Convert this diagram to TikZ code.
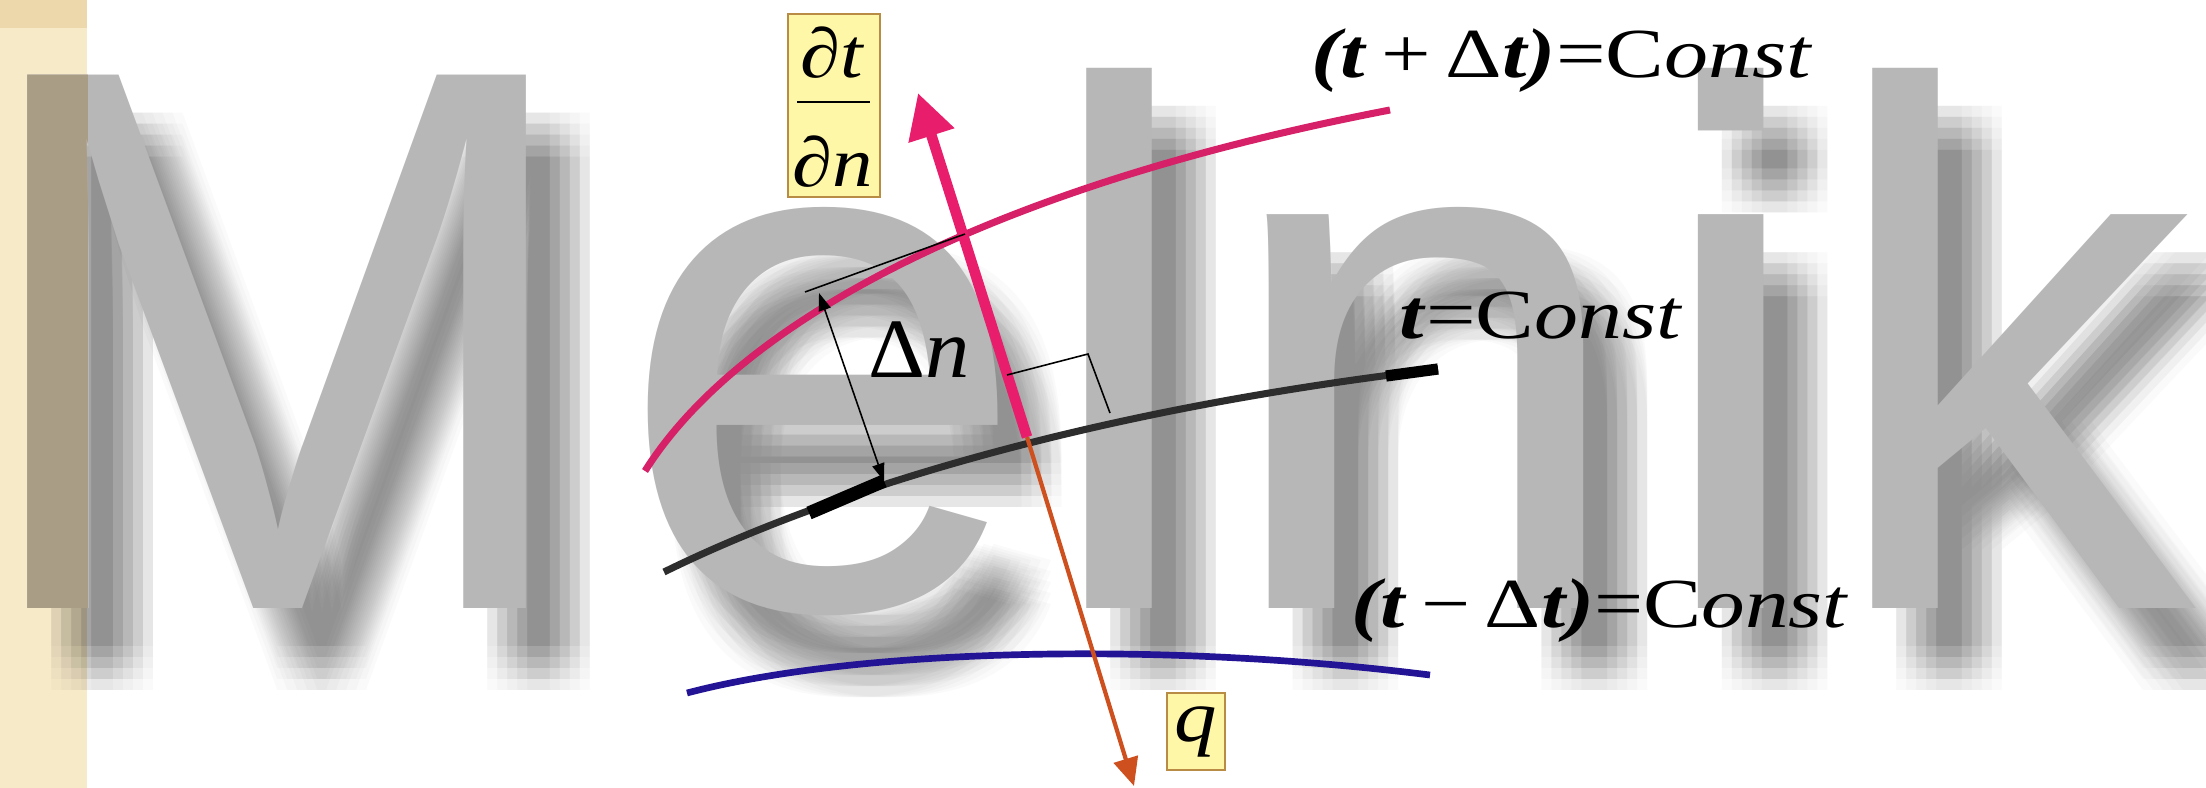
\documentclass[tikz,border=0pt]{standalone}
\usepackage{fontspec}
\usepackage{graphicx}
\setmainfont{Liberation Serif}
\newfontfamily\wmfont{Liberation Sans}
\usetikzlibrary{arrows.meta}
\definecolor{beige}{RGB}{247,234,200}
\definecolor{beigetop}{RGB}{236,216,170}
\definecolor{wmgray}{RGB}{183,183,183}
\definecolor{wmtan}{RGB}{170,157,134}
\definecolor{pinkc}{RGB}{214,32,104}
\definecolor{pinka}{RGB}{232,30,108}
\definecolor{blackc}{RGB}{45,45,45}
\definecolor{bluec}{RGB}{35,20,150}
\definecolor{orangec}{RGB}{205,80,30}
\definecolor{boxfill}{RGB}{255,247,168}
\definecolor{boxdraw}{RGB}{185,140,70}
\begin{document}
\begin{tikzpicture}[x=0.01cm,y=-0.01cm,
  wm/.style={font=\wmfont\fontsize{212}{212}\selectfont, inner sep=0pt, anchor=base west},
  lbl/.style={font=\fontsize{20}{20}\selectfont, inner sep=0pt, anchor=base},
  ybox/.style={draw=boxdraw, fill=boxfill, line width=0.7pt, inner sep=0pt},
  thin/.style={line width=0.45pt, draw=black},
]
\useasboundingbox (0,0) rectangle (2206,788);
\fill[white] (0,0) rectangle (2206,788);
\fill[beige] (0,0) rectangle (87,788);
\fill[beigetop] (0,0) rectangle (87,28);
% watermark shadow (soft)
\foreach \dx in {24,34,44,54,64}{\foreach \dy in {38,49,60,71,82}{
  \foreach \ch/\px [count=\k] in {\scalebox{1}[1.04]{M}/-34,e/616,l/1036,n/1217,i/1648,k/1822}{
    \node[wm, text=black, text opacity=0.018] (sh\k) at (\px+\dx,608+\dy) {\ch};
  }}}
% watermark letters
\foreach \ch/\px [count=\k] in {\scalebox{1}[1.04]{M}/-34,e/616,l/1036,n/1217,i/1648,k/1822}{
  \node[wm, text=wmgray] (wm\k) at (\px,608) {\ch};
}
\begin{scope}
  \clip (0,0) rectangle (87,788);
  \node[wm, text=wmtan] (wmM) at (-34,608) {\scalebox{1}[1.04]{M}};
\end{scope}

% key points
\coordinate (ptop) at (918,93);
\coordinate (cross) at (1027,437);
\coordinate (pbot) at (1134,786);
\coordinate (pinkA) at (645,471);
\coordinate (pinkB) at (1390,110);
\coordinate (blkA) at (664,572);
\coordinate (blkB) at (1438,369);
\coordinate (bluA) at (687,693);
\coordinate (bluB) at (1430,675);
\coordinate (dnlo) at (884,481);
\coordinate (dnhi) at (819,293);
\coordinate (tanA) at (805,292);
\coordinate (tanB) at (965,234);
\coordinate (raA) at (1007,375);
\coordinate (raB) at (1088,354);
\coordinate (raC) at (1110,413);

% curves
\draw[pinkc, line width=2pt] (pinkA) .. controls (735,328) and (975,190) .. (pinkB);
\draw[blackc, line width=2pt] (blkA) .. controls (800,505) and (1050,415) .. (blkB);
\draw[black, line width=3.8pt] (809,513) -- (dnlo);
\draw[black, line width=3.2pt] (1386,376) -- (blkB);
\draw[bluec, line width=1.9pt] (bluA) .. controls (850,650) and (1150,640) .. (bluB);

% arrows
\draw[orangec, line width=1.2pt, -{Triangle[length=8pt,width=7pt]}] (cross) -- (pbot);
\draw[pinka, line width=3pt, -{Triangle[length=12.7pt,width=12.9pt]}] (cross) -- (ptop);

% delta n
\draw[thin, {Triangle[length=5pt,width=3.5pt]}-{Triangle[length=5pt,width=3.5pt]}] (dnhi) -- (dnlo);
\draw[thin] (tanA) -- (tanB);
\draw[thin] (raA) -- (raB) -- (raC);

% labels
\node[lbl] (lplus) at (1562,78) {\scalebox{1.25}[1]{\textbf{\textit{(t}}\,+\,Δ\textbf{\textit{t)}}=C\textit{onst}}};
\node[lbl] (lzero) at (1541,338) {\scalebox{1.25}[1]{\textbf{\textit{t}}=C\textit{onst}}};
\node[lbl] (lminus) at (1600,627) {\scalebox{1.24}[1]{\textbf{\textit{(t}}\,−\,Δ\textbf{\textit{t)}}=C\textit{onst}}};
\node[lbl, font=\fontsize{24}{24}\selectfont] (ldn) at (919,377) {\scalebox{1.05}[1]{Δ\textit{n}}};

% boxes
\node[ybox, minimum width=0.92cm, minimum height=1.83cm] (dtdn) at (834,105.5) {};
\node[lbl, font=\fontsize{20}{20}\selectfont] (dt) at (833,78) {\scalebox{1.15}[1]{\textit{∂t}}};
\node[lbl, font=\fontsize{20}{20}\selectfont] (dn) at (833,187) {\scalebox{1.15}[1]{\textit{∂n}}};
\draw[line width=0.8pt] (797,102) -- (870,102);
\node[ybox, minimum width=0.58cm, minimum height=0.77cm, font=\fontsize{21}{21}\selectfont] (qbox) at (1196,731.5) {\scalebox{1.15}[1]{\textit{q}}};
\end{tikzpicture}
\end{document}
